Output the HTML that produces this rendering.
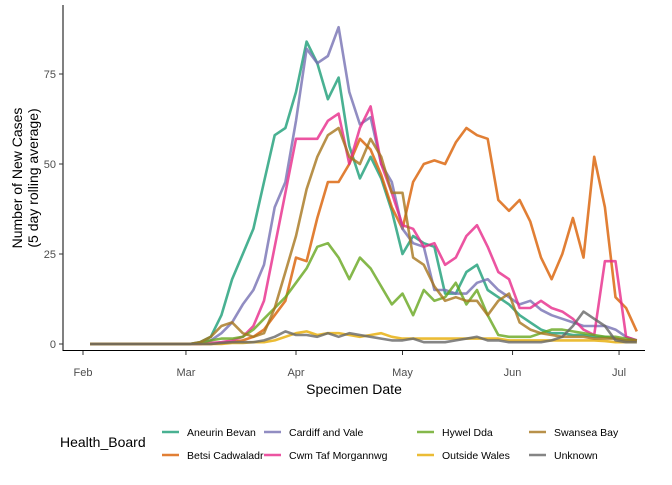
<!DOCTYPE html>
<html><head><meta charset="utf-8"><style>
body{margin:0;background:#fff;font-family:"Liberation Sans",sans-serif}
svg text{font-family:"Liberation Sans",sans-serif}
</style></head><body>
<svg id="chart" width="672" height="480" viewBox="0 0 672 480">
<g id="axes"></g>
<g id="series"></g>
<g id="legend"></g>
</svg>
<script>
const days = [2,30,33,36,39,42,45,48,51,54,57,60,63,66,69,72,75,78,81,84,87,90,93,96,99,102,105,108,111,114,117,120,123,126,129,132,135,138,141,144,147,150,153,156];
const aneurin = [0,0,0.5,2,8,18,25,32,45,58,60,70,84,78,68,74,55,46,52,46,37,25,30,28,27,14,14,20,22,15,13,11,8,6,4,3,3,2.5,2.5,2,2,1.5,1,1];
const betsi = [0,0,0,0,0.3,0.5,1,2,4,8,12,24,23,35,45,45,50,57,54,47,38,32,45,50,51,50,56,60,58,57,40,37,40,34,24,18,25,35,24,52,38,13,10,3.5];
const cardiff = [0,0,0.3,1,3,6,11,15,22,38,45,62,82,78,80,88,70,61,63,50,45,32,28,27,15,15,14,14,17,18,15,13,11,12,9.5,8,7,6,5,5,5,4,2,1];
const cwm = [0,0,0,0.3,0.5,1,2,5,12,27,42,57,57,57,62,64,50,60,66,50,42,33,32,27,28,22,24,30,33,27,20,18,10,10,12,10,9,7,4,2.5,23,23,2,1];
const hywel = [0,0,0.3,1,1.5,1.5,2,4,7,10,13,17,21,27,28,24,18,24,21,16,11,14,8,15,12,13,17,11,15,8,2.5,2,2,2,3,4,4,3.5,3,2.5,2,2,1.5,1];
const outside = [0,0,0,0,0,0.3,0.3,0.5,0.5,1,2,3,3.5,2.5,3,3,2.5,2,2.5,3,2,1.5,1.5,1.5,1.5,1.5,1.5,1.5,1.5,1.5,1.5,1,1,1,1,1,1,1,1,1,0.8,0.5,0.5,0.5];
const swansea = [0,0,0.5,2,5,6,3,2,3,10,20,30,43,52,58,60,52,50,57,52,42,42,24,22,16,12,13,12,12,8,12,14,6,4,3,2.5,2,2,2,1.5,1.5,1.5,1,1];
const unknown = [0,0,0,0,0.3,0.5,0.5,0.5,1,2,3.5,2.5,2.5,2,3,2,3,2.5,2,1.5,1,1,1.5,0.5,0.5,0.5,1,1.5,2,1,1,0.5,0.5,0.5,0.5,1,2,5,9,7,5,1,0.5,0.5];
const seriesNames = ["Aneurin Bevan","Betsi Cadwaladr","Cardiff and Vale","Cwm Taf Morgannwg","Hywel Dda","Outside Wales","Swansea Bay","Unknown"];
const seriesVals = [aneurin,betsi,cardiff,cwm,hywel,outside,swansea,unknown];
const colors = ["#1B9E77","#D95F02","#7570B3","#E7298A","#66A61E","#E6AB02","#A6761D","#666666"];
const yTicks = [0,25,50,75];
const xTickLabels = ["Feb","Mar","Apr","May","Jun","Jul"];
const xTickDays = [0,29,60,90,121,151];

const NS="http://www.w3.org/2000/svg";
const xs = d => 83 + d*3.55;
const ys = v => 344 - v*3.6;
function mk(tag, attrs, parent){const e=document.createElementNS(NS,tag);for(const k in attrs)e.setAttribute(k,attrs[k]);parent.appendChild(e);return e;}
const axes=document.getElementById('axes');
let l=mk('line',{x1:63,y1:5,x2:63,y2:351,stroke:'#000','stroke-width':1},axes);


l=mk('line',{x1:62.5,y1:350.5,x2:645,y2:350.5,stroke:'#000','stroke-width':1},axes);


yTicks.forEach(t=>{
  const y=ys(t);
  const tk=mk('line',{x1:59,y1:y,x2:63,y2:y,stroke:'#333'},axes);
  
  
  const tx=mk('text',{x:56,y:y+4,'text-anchor':'end','font-size':11,fill:'#4d4d4d'},axes);
  tx.textContent=t;
  
  
});
xTickDays.forEach((d,i)=>{
  const x=xs(d);
  const tk=mk('line',{x1:x,y1:351,x2:x,y2:355,stroke:'#333'},axes);
  
  
  const tx=mk('text',{x:x,y:376,'text-anchor':'middle','font-size':11,fill:'#4d4d4d'},axes);
  tx.textContent=xTickLabels[i];
  
  
});
let t=mk('text',{x:354,y:394,'text-anchor':'middle','font-size':14},axes);
t.textContent='Specimen Date';


t=mk('text',{transform:'translate(22,178) rotate(-90)','text-anchor':'middle','font-size':14},axes);
t.textContent='Number of New Cases';


t=mk('text',{transform:'translate(38,178) rotate(-90)','text-anchor':'middle','font-size':14},axes);
t.textContent='(5 day rolling average)';



const sg=document.getElementById('series');
seriesVals.forEach((vals,i)=>{
  const pts=vals.map((v,j)=>xs(days[j]).toFixed(1)+','+ys(v).toFixed(1)).join(' ');
  const p=mk('polyline',{points:pts,fill:'none',stroke:colors[i],'stroke-width':2.6,'stroke-opacity':0.8,'stroke-linejoin':'round'},sg);
  
  
});

const lg=document.getElementById('legend');
t=mk('text',{x:60,y:447,'font-size':14},lg);
t.textContent='Health_Board';


const colX=[162,264,417,529];
seriesNames.forEach((n,i)=>{
  const c=Math.floor(i/2), r=i%2;
  const y=432+r*23;
  const g=mk('g',{},lg);
  
  
  mk('line',{x1:colX[c],y1:y,x2:colX[c]+17,y2:y,stroke:colors[i],'stroke-width':2.6,'stroke-opacity':0.8},g);
  const tx=mk('text',{x:colX[c]+25,y:y+4,'font-size':10.5},g);
  tx.textContent=n;
});
</script>
</body></html>
